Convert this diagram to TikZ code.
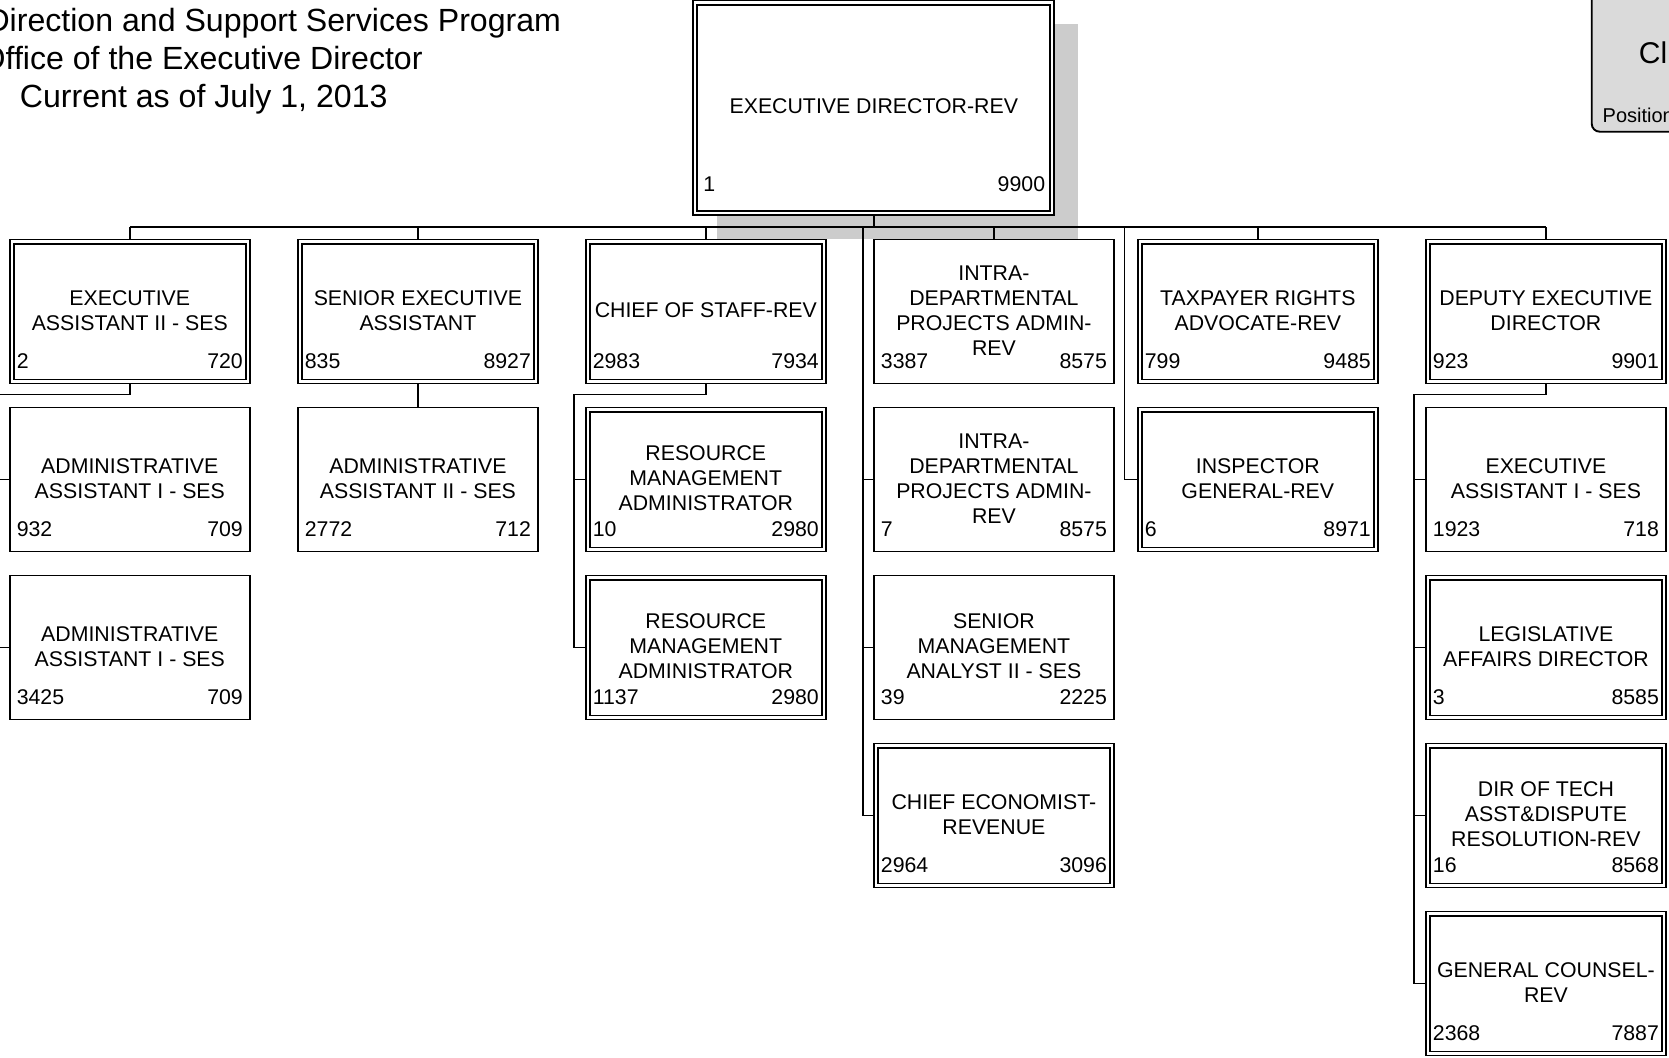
\documentclass[tikz,border=0pt]{standalone}
\usepackage{fontspec}
\setmainfont{Liberation Sans}
\definecolor{shadowgray}{RGB}{204,204,204}
\definecolor{legendgray}{RGB}{218,218,218}
% one position box: name, centre x, centre y, double border (1/0), title, left number, right number
\newcommand\orgpos[7]{%
  \node[posbox] (#1) at (#2,#3) {};
  \ifnum#4=1
    \draw ([shift={(2.5pt,2.5pt)}]#1.south west) rectangle ([shift={(-2.5pt,-2.5pt)}]#1.north east);
  \fi
  \node[boxtext] (#1-t) at ([yshift=0.6pt]#1.center) {#5};
  \node[num, anchor=base west] (#1-l) at ([shift={(3.5pt,7.9pt)}]#1.south west) {#6};
  \node[num, anchor=base east] (#1-r) at ([shift={(-3.5pt,7.9pt)}]#1.south east) {#7};
}
\begin{document}
\begin{tikzpicture}[x=0.5pt,y=-0.5pt,
  line width=0.95pt,
  posbox/.style={draw, rectangle, fill=white, minimum width=120pt, minimum height=72pt, inner sep=0pt},
  boxtext/.style={inner sep=0pt, align=center, font=\fontsize{10.65}{12.5}\selectfont},
  num/.style={inner sep=0pt, font=\fontsize{10.65}{12.5}\selectfont},
  titletext/.style={inner sep=0pt, font=\fontsize{16.05}{19}\selectfont}]
\useasboundingbox (0,0) rectangle (1669,1057);
\clip (0,0) rectangle (1669,1057);

% heading
\node[titletext, anchor=base east] (t1) at (562,31) {Direction and Support Services Program};
\node[titletext, anchor=base east] (t2) at (423.5,69) {Office of the Executive Director};
\node[titletext, anchor=base west] (t3) at (19,107) {Current as of July 1, 2013};

% legend card
\draw[fill=legendgray, rounded corners=4pt] (1591.7,-20) rectangle (1720,131.7);
\node[inner sep=0pt, anchor=west, font=\fontsize{15}{18}\selectfont] (lg1) at (1638,53) {Cl};
\node[inner sep=0pt, anchor=west, font=\fontsize{10}{12}\selectfont] (lg2) at (1601.7,115) {Position};

% executive director with its shadow
\fill[shadowgray] (717.3,23.5) rectangle (1078.3,238.5);
\coordinate (busL) at (129.8,226.7);
\coordinate (busR) at (1545.9,226.7);
\draw (busL) -- (busR);
\node[draw, fill=white, minimum width=180.5pt, minimum height=107.25pt, inner sep=0pt] (ed) at (873.8,107.75) {};
\draw ([shift={(2.5pt,2.5pt)}]ed.south west) rectangle ([shift={(-2.5pt,-2.5pt)}]ed.north east);
\node[boxtext] (ed-t) at ([yshift=0.9pt]ed.center) {EXECUTIVE DIRECTOR-REV};
\node[num, anchor=base west] (ed-l) at ([shift={(5pt,12.4pt)}]ed.south west) {1};
\node[num, anchor=base east] (ed-r) at ([shift={(-4.6pt,12.4pt)}]ed.south east) {9900};
\draw (ed.south) -- (ed.south |- busL);

% first row
\orgpos{ea2}{129.8}{311.5}{1}{EXECUTIVE\\ASSISTANT II - SES}{2}{720}
\orgpos{sea}{417.9}{311.5}{1}{SENIOR EXECUTIVE\\ASSISTANT}{835}{8927}
\orgpos{cos}{705.8}{311.5}{1}{CHIEF OF STAFF-REV}{2983}{7934}
\orgpos{idpa1}{993.9}{311.5}{0}{INTRA-\\DEPARTMENTAL\\PROJECTS ADMIN-\\REV}{3387}{8575}
\orgpos{tra}{1257.8}{311.5}{1}{TAXPAYER RIGHTS\\ADVOCATE-REV}{799}{9485}
\orgpos{ded}{1545.9}{311.5}{1}{DEPUTY EXECUTIVE\\DIRECTOR}{923}{9901}

% second row
\orgpos{aa1a}{129.8}{479.5}{0}{ADMINISTRATIVE\\ASSISTANT I - SES}{932}{709}
\orgpos{aa2}{417.9}{479.5}{0}{ADMINISTRATIVE\\ASSISTANT II - SES}{2772}{712}
\orgpos{rma1}{705.8}{479.5}{1}{RESOURCE\\MANAGEMENT\\ADMINISTRATOR}{10}{2980}
\orgpos{idpa2}{993.9}{479.5}{0}{INTRA-\\DEPARTMENTAL\\PROJECTS ADMIN-\\REV}{7}{8575}
\orgpos{ig}{1257.8}{479.5}{1}{INSPECTOR\\GENERAL-REV}{6}{8971}
\orgpos{ea1}{1545.9}{479.5}{0}{EXECUTIVE\\ASSISTANT I - SES}{1923}{718}

% third row
\orgpos{aa1b}{129.8}{647.5}{0}{ADMINISTRATIVE\\ASSISTANT I - SES}{3425}{709}
\orgpos{rma2}{705.8}{647.5}{1}{RESOURCE\\MANAGEMENT\\ADMINISTRATOR}{1137}{2980}
\orgpos{sma}{993.9}{647.5}{0}{SENIOR\\MANAGEMENT\\ANALYST II - SES}{39}{2225}
\orgpos{lad}{1545.9}{647.5}{1}{LEGISLATIVE\\AFFAIRS DIRECTOR}{3}{8585}

% fourth and fifth rows
\orgpos{ce}{993.9}{815.5}{1}{CHIEF ECONOMIST-\\REVENUE}{2964}{3096}
\orgpos{dot}{1545.9}{815.5}{1}{DIR OF TECH\\ASST\&DISPUTE\\RESOLUTION-REV}{16}{8568}
\orgpos{gc}{1545.9}{983.5}{1}{GENERAL COUNSEL-\\REV}{2368}{7887}

% stems from the bus to the first row
\foreach \n in {ea2,sea,cos,idpa1,tra,ded}
  \draw (\n.north) -- (\n.north |- busL);

% column 1
\coordinate (s1) at (-1.9,394.5);
\draw (ea2.south) |- (s1) -- (s1 |- aa1b.west) -- (aa1b.west);
\draw (s1 |- aa1a.west) -- (aa1a.west);
% column 2
\draw (sea.south) -- (aa2.north);
% column 3
\coordinate (s3) at (574,394.5);
\draw (cos.south) |- (s3) -- (s3 |- rma2.west) -- (rma2.west);
\draw (s3 |- rma1.west) -- (rma1.west);
% column 4
\coordinate (s4) at (863,226.7);
\draw (s4) -- (s4 |- ce.west) -- (ce.west);
\draw (s4 |- idpa2.west) -- (idpa2.west);
\draw (s4 |- sma.west) -- (sma.west);
% column 5
\coordinate (s5) at (1124.5,226.7);
\draw (s5) |- (ig.west);
% column 6
\coordinate (s6) at (1414,394.5);
\draw (ded.south) |- (s6) -- (s6 |- gc.west) -- (gc.west);
\draw (s6 |- ea1.west) -- (ea1.west);
\draw (s6 |- lad.west) -- (lad.west);
\draw (s6 |- dot.west) -- (dot.west);
\end{tikzpicture}
\end{document}
